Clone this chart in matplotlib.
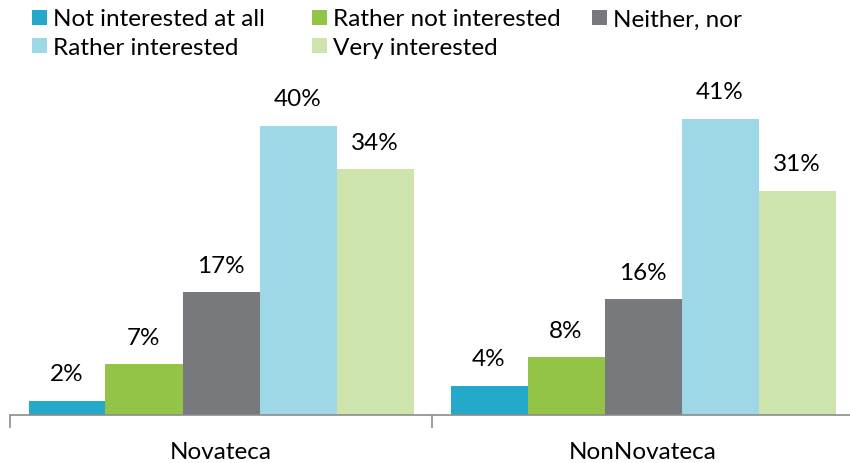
import matplotlib
matplotlib.use("Agg")
import matplotlib.pyplot as plt
import numpy as np
from matplotlib.patches import Rectangle

categories = ["Novateca", "NonNovateca"]
series_names = ["Not interested at all", "Rather not interested", "Neither, nor",
                "Rather interested", "Very interested"]
values = {
    "Not interested at all": [2, 4],
    "Rather not interested": [7, 8],
    "Neither, nor": [17, 16],
    "Rather interested": [40, 41],
    "Very interested": [34, 31],
}
colors = ["#25A9CA", "#93C347", "#77797D", "#9ED8E7", "#CDE4AC"]

plt.rcParams['font.family'] = ['Lato', 'DejaVu Sans']
FS = 17.5

fig = plt.figure(figsize=(8.5, 4.64), dpi=100)
W, H = 850, 464
ax_left, ax_right = 10, 854
ax_bottom, ax_top = 416, 416 - 45 * 7.23
ax = fig.add_axes([ax_left / W, (H - ax_bottom) / H, (ax_right - ax_left) / W, (ax_bottom - ax_top) / H])

x = np.arange(len(categories))
bw = 77 / 422
n = len(series_names)
for i, (name, c) in enumerate(zip(series_names, colors)):
    offs = (i - (n - 1) / 2) * bw
    vals = values[name]
    ax.bar(x + offs, vals, width=bw, color=c, label=name, linewidth=0)
    for xi, v in zip(x + offs, vals):
        ax.annotate(f"{v}%", (xi, v), xytext=(0, 19.5), textcoords="offset points",
                    ha="center", va="center", fontsize=FS, color="#000000")

ax.set_xlim(-0.5, 1.5)
ax.set_ylim(0, 45)
for s in ["top", "right", "left"]:
    ax.spines[s].set_visible(False)
ax.spines["bottom"].set_color("#8C8C8C")
ax.spines["bottom"].set_linewidth(1.2)
ax.set_yticks([])
ax.set_xticks(x)
ax.set_xticklabels(categories, fontsize=FS)
ax.tick_params(axis="x", which="major", length=0, pad=19)
ax.set_xticks([-0.5, 0.5, 1.5], minor=True)
ax.tick_params(axis="x", which="minor", length=9, width=1.2, color="#8C8C8C", direction="out")

# legend (row-major, 3 columns)
col_x = [32, 312, 592]
row_y = [18, 46.5]
sq = 15
for i, (name, c) in enumerate(zip(series_names, colors)):
    r, k = divmod(i, 3)
    px, py = col_x[k], row_y[r]
    fig.add_artist(Rectangle((px / W, 1 - (py + sq / 2) / H), sq / W, sq / H,
                             transform=fig.transFigure, facecolor=c, edgecolor="none"))
    fig.text((px + 21) / W, 1 - py / H, name, fontsize=FS, ha="left", va="center_baseline",
             color="#000000")

fig.savefig("out.png", dpi=100)
